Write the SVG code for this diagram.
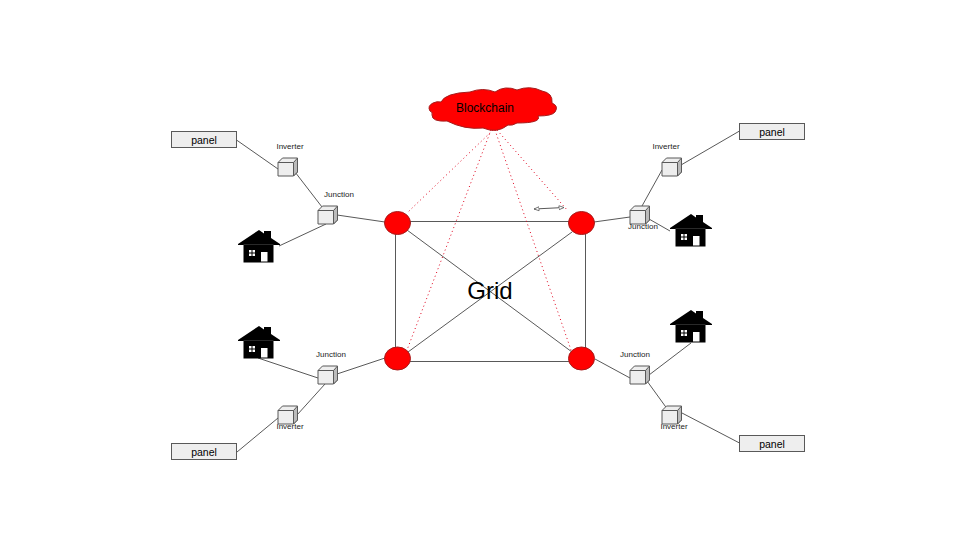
<svg xmlns="http://www.w3.org/2000/svg" xmlns:xlink="http://www.w3.org/1999/xlink" width="960" height="540" viewBox="0 0 960 540">
<style>
.ln{stroke:#595959;stroke-width:1;fill:none}
.dot{stroke:#e0001b;stroke-width:1;stroke-dasharray:1 3;fill:none}
.hub{fill:#f00;stroke:#a61c1c;stroke-width:1}
.panel{fill:#eee;stroke:#595959;stroke-width:1}
text{font-family:"Liberation Sans",Arial,sans-serif;text-anchor:middle;fill:#000}
.s{font-size:8px;fill:#222}
.p{font-size:10.500px}
</style>
<defs>
<g id="cube">
<path d="M0 4.500L4.500 0H19.500V14L15.500 18H0Z" fill="#eee" stroke="#595959"/>
<path d="M15.500 4.500L19.500 0V14L15.500 18Z" fill="#bbb" stroke="#595959"/>
<path d="M0 4.500H15.500" stroke="#595959" fill="none"/>
</g>
<g id="house">
<path d="M0 14L21 0L26 3.500V1H33V8L42 14V15H35.500V32.500H5.500V15H0Z" fill="#000"/>
<path d="M5.500 14.500H35.500" stroke="#444" stroke-width="0.600"/>
<path d="M11 20h6v6h-6z" fill="#fff"/>
<path d="M14 20v6M11 23h6" stroke="#000" stroke-width="1"/>
<rect x="23" y="22" width="6.500" height="9.500" fill="#fff"/>
</g>
<marker id="ah" viewBox="0 0 6 6" refX="5.500" refY="3" markerWidth="6" markerHeight="6" orient="auto-start-reverse" markerUnits="userSpaceOnUse">
<path d="M0.500 1L5.500 3L0.500 5Z" fill="#fff" stroke="#595959" stroke-width="0.800"/>
</marker>
</defs>
<rect width="960" height="540" fill="#fff"/>
<g id="connectors">
<path class="ln" d="M395.500 223V359M585.500 223V359M397 221.500H582M397 361.500H582M407 230L572 352M408 352L572 232"/>
<path class="ln" d="M236.500 140L278 169M295 172L322 207M279 246L326 224M337 215L385 222"/>
<path class="ln" d="M739.500 131L681 165M662 170L642 206M594 222L630 217M649 219L670 231"/>
<path class="ln" d="M258 358L318 378M337 374L385 358M325 384L297 415M278 418L237 452"/>
<path class="ln" d="M691 343L649 375M595 359L630 378M647 381L668 410M682 413L739.500 443"/>
<path class="dot" d="M493 130L407 213M491 130L407 350M495 130L571 350M497 130L568 211"/>
<path d="M534 209L564 207.500" stroke="#595959" fill="none" marker-start="url(#ah)" marker-end="url(#ah)"/>
</g>
<g id="blockchain">
<path d="M430 111Q427 106 433 103Q437 101 441 102Q445 93 470 92Q483 87 495 92Q505 85 517 90Q530 85 542 91Q553 93 552 103Q559 106 555 112Q552 116 538 116Q542 123 517 123Q512 126 508 125Q497 134 483 128Q465 130 447 121Q432 122 432 115Q433 112 430 111Z" fill="#f00" stroke="#a61c1c"/>
<text x="485" y="112" style="font-size:12px">Blockchain</text>
</g>
<g id="grid-label"><text x="490" y="299" style="font-size:24px">Grid</text></g>
<g id="hub-tl"><ellipse class="hub" cx="397.500" cy="223" rx="13" ry="11.500"/></g>
<g id="hub-tr"><ellipse class="hub" cx="581.500" cy="223" rx="13" ry="11.500"/></g>
<g id="hub-bl"><ellipse class="hub" cx="397.500" cy="358.500" rx="13" ry="11.500"/></g>
<g id="hub-br"><ellipse class="hub" cx="581.500" cy="358.500" rx="13" ry="11.500"/></g>
<g id="panel-tl"><rect class="panel" x="171.500" y="131.500" width="65" height="16"/><text class="p" x="204" y="143.500">panel</text></g>
<g id="panel-tr"><rect class="panel" x="739.500" y="123.500" width="65" height="16"/><text class="p" x="772" y="135.500">panel</text></g>
<g id="panel-bl"><rect class="panel" x="171.500" y="443.500" width="65" height="16"/><text class="p" x="204" y="455.500">panel</text></g>
<g id="panel-br"><rect class="panel" x="739.500" y="435.500" width="65" height="16"/><text class="p" x="772" y="447.500">panel</text></g>
<g id="inverter-tl"><use xlink:href="#cube" href="#cube" x="278" y="158"/><text class="s" x="290" y="149">Inverter</text></g>
<g id="inverter-tr"><use xlink:href="#cube" href="#cube" x="662" y="158"/><text class="s" x="666" y="149">Inverter</text></g>
<g id="inverter-bl"><use xlink:href="#cube" href="#cube" x="278" y="406"/><text class="s" x="290" y="429">Inverter</text></g>
<g id="inverter-br"><use xlink:href="#cube" href="#cube" x="662" y="406"/><text class="s" x="674" y="429">Inverter</text></g>
<g id="junction-tl"><use xlink:href="#cube" href="#cube" x="318" y="206"/><text class="s" x="339" y="197">Junction</text></g>
<g id="junction-tr"><use xlink:href="#cube" href="#cube" x="630" y="206"/><text class="s" x="643" y="229">Junction</text></g>
<g id="junction-bl"><use xlink:href="#cube" href="#cube" x="318" y="366"/><text class="s" x="331" y="357">Junction</text></g>
<g id="junction-br"><use xlink:href="#cube" href="#cube" x="630" y="366"/><text class="s" x="635" y="357">Junction</text></g>
<g id="house-tl"><use xlink:href="#house" href="#house" x="238" y="230"/></g>
<g id="house-tr"><use xlink:href="#house" href="#house" x="670" y="214"/></g>
<g id="house-bl"><use xlink:href="#house" href="#house" x="238" y="326"/></g>
<g id="house-br"><use xlink:href="#house" href="#house" x="670" y="310"/></g>
</svg>
